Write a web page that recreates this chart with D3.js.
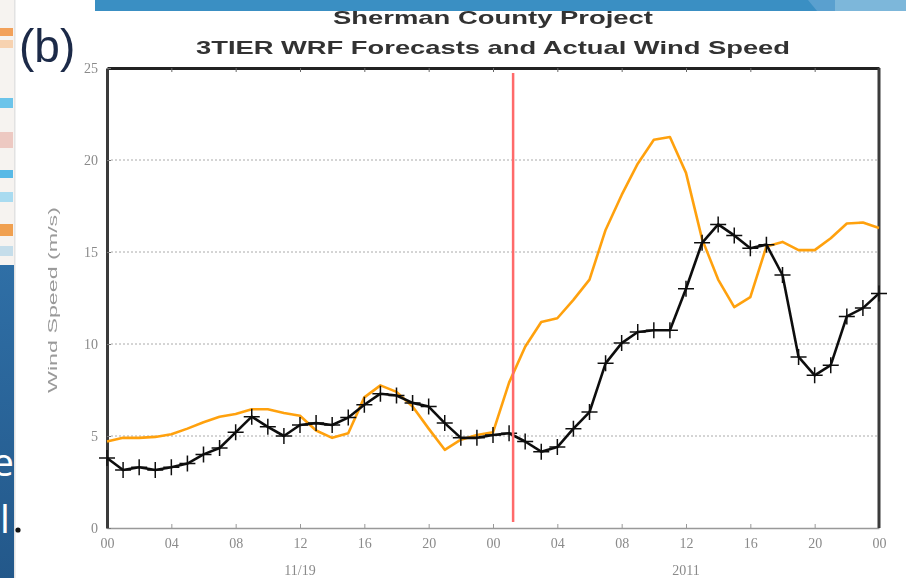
<!DOCTYPE html>
<html>
<head>
<meta charset="utf-8">
<script src="https://cdn.jsdelivr.net/npm/d3@7"></script>
<style>
  body { margin: 0; background: #fff; }
  svg { display: block; }
</style>
</head>
<body>
<div id="chart"></div>
<script>
const width = 906;
const height = 578;

// hourly values, 00:00 on the first day to 00:00 two days later
const actual = [3.8, 3.15, 3.3, 3.15, 3.3, 3.5, 4.0, 4.35, 5.2, 6.05, 5.5, 5.0, 5.6,
    5.7, 5.6, 6.0, 6.7, 7.3, 7.2, 6.8, 6.6, 5.7, 4.9, 4.9, 5.05,
    5.15, 4.7, 4.15, 4.4, 5.4, 6.3, 8.95, 10.05, 10.65, 10.75, 10.75, 13.0,
    15.5, 16.5, 15.9, 15.2, 15.4, 13.75, 9.3, 8.3, 8.85, 11.5, 11.95, 12.75];
const forecast = [4.7, 4.9, 4.9, 4.95, 5.1, 5.4, 5.75, 6.05, 6.2, 6.45, 6.45, 6.25, 6.1,
    5.3, 4.9, 5.15, 7.1, 7.75, 7.4, 6.6, 5.4, 4.25, 4.8, 5.05, 5.2,
    7.9, 9.85, 11.2, 11.4, 12.4, 13.5, 16.2, 18.1, 19.8, 21.1, 21.25, 19.3,
    15.7, 13.5, 12.0, 12.55, 15.3, 15.55, 15.1, 15.1, 15.75, 16.55, 16.6, 16.3];
const yTicks = [0, 5, 10, 15, 20, 25];
const dayLabels = ['11/19', '2011'];
const forecastIssued = 25.25; // hours after start

const start = new Date(2011, 10, 19, 0);
const end = new Date(2011, 10, 21, 0);
const hour = i => d3.timeHour.offset(start, i);
const hourF = h => new Date(start.getTime() + h * 3600e3);

const svg = d3.select('#chart').append('svg')
    .attr('width', width)
    .attr('height', height);

const defs = svg.append('defs');
defs.append('filter').attr('id', 'soft')
    .attr('x', '-5%').attr('y', '-5%').attr('width', '110%').attr('height', '110%')
    .append('feGaussianBlur').attr('stdDeviation', 0.55);

// ---- the chart ----
const margin = { left: 107, right: 879, top: 68, bottom: 528 };

const x = d3.scaleTime().domain([start, end]).range([margin.left, margin.right]);
const y = d3.scaleLinear().domain([0, 25]).range([margin.bottom, margin.top]);

const chart = svg.append('g').attr('filter', 'url(#soft)');

const titles = chart.append('g')
    .style('font-family', '"Liberation Sans", Arial, sans-serif')
    .style('font-weight', 'bold')
    .attr('fill', '#333')
    .attr('text-anchor', 'middle');
titles.append('text').attr('x', 493).attr('y', 24).style('font-size', '19px')
    .attr('textLength', 320).attr('lengthAdjust', 'spacingAndGlyphs').text('Sherman County Project');
titles.append('text').attr('x', 493).attr('y', 54).style('font-size', '19px')
    .attr('textLength', 594).attr('lengthAdjust', 'spacingAndGlyphs').text('3TIER WRF Forecasts and Actual Wind Speed');

// dotted grid
chart.append('g')
    .selectAll('line')
    .data(yTicks.filter(d => d > 0 && d < 25))
    .enter().append('line')
    .attr('x1', margin.left).attr('x2', margin.right)
    .attr('y1', d => y(d)).attr('y2', d => y(d))
    .attr('stroke', '#aaa')
    .attr('stroke-width', 1)
    .attr('stroke-dasharray', '2,2');

const tickFont = g => g.selectAll('text')
    .style('font-family', '"Liberation Serif", serif')
    .style('font-size', '14px')
    .attr('fill', '#8a8a8a');

const xAxis = d3.axisBottom(x)
    .ticks(d3.timeHour.every(4))
    .tickFormat(d3.timeFormat('%H'))
    .tickSizeInner(-4)
    .tickSizeOuter(0)
    .tickPadding(10);

chart.append('g')
    .attr('transform', `translate(0,${margin.bottom})`)
    .call(xAxis)
    .call(g => g.select('.domain').attr('stroke', '#999').attr('stroke-width', 1.5))
    .call(g => g.selectAll('.tick line').attr('stroke', '#999'))
    .call(tickFont);

chart.append('g')
    .attr('transform', `translate(0,${margin.top})`)
    .call(d3.axisTop(x).ticks(d3.timeHour.every(4)).tickSizeInner(-4).tickSizeOuter(0).tickFormat(''))
    .call(g => g.select('.domain').attr('stroke', '#222').attr('stroke-width', 3))
    .call(g => g.selectAll('.tick line').attr('stroke', '#666'));

chart.append('g')
    .attr('transform', `translate(${margin.left},0)`)
    .call(d3.axisLeft(y).tickValues(yTicks).tickSizeInner(-4).tickSizeOuter(0).tickPadding(9))
    .call(g => g.select('.domain').attr('stroke', '#3a3a3a').attr('stroke-width', 3))
    .call(g => g.selectAll('.tick line').attr('stroke', '#777'))
    .call(tickFont);

chart.append('line')
    .attr('x1', margin.right).attr('x2', margin.right)
    .attr('y1', margin.top).attr('y2', margin.bottom)
    .attr('stroke', '#3a3a3a').attr('stroke-width', 3);

// day labels at noon of each day
chart.append('g')
    .selectAll('text')
    .data(dayLabels)
    .enter().append('text')
    .attr('x', (d, i) => x(hour(12 + 24 * i)))
    .attr('y', 575)
    .attr('text-anchor', 'middle')
    .style('font-family', '"Liberation Serif", serif')
    .style('font-size', '14px')
    .attr('fill', '#8a8a8a')
    .text(d => d);

chart.append('text')
    .attr('transform', `translate(57,${(margin.top + margin.bottom) / 2 + 2}) rotate(-90)`)
    .attr('text-anchor', 'middle')
    .attr('textLength', 186)
    .attr('lengthAdjust', 'spacingAndGlyphs')
    .style('font-family', '"Liberation Sans", sans-serif')
    .style('font-size', '13px')
    .attr('fill', '#9a9a9a')
    .text('Wind Speed (m/s)');

// series
const line = d3.line()
    .x((d, i) => x(hour(i)))
    .y(d => y(d));

chart.append('path')
    .datum(forecast)
    .attr('d', line)
    .attr('fill', 'none')
    .attr('stroke', '#ffa10f')
    .attr('stroke-width', 2.6)
    .attr('stroke-linejoin', 'round');

chart.append('path')
    .datum(actual)
    .attr('d', line)
    .attr('fill', 'none')
    .attr('stroke', '#111')
    .attr('stroke-width', 2.6)
    .attr('stroke-linejoin', 'round');

chart.append('g')
    .selectAll('path')
    .data(actual)
    .enter().append('path')
    .attr('transform', (d, i) => `translate(${x(hour(i))},${y(d)})`)
    .attr('d', 'M-8,0H8M0,-8V8')
    .attr('stroke', '#111')
    .attr('stroke-width', 1.5);

// forecast issue time
chart.append('line')
    .attr('x1', x(hourF(forecastIssued))).attr('x2', x(hourF(forecastIssued)))
    .attr('y1', 73).attr('y2', 522)
    .attr('stroke', '#ff6a6a')
    .attr('stroke-width', 2.5);

// ---- slide pieces around the figure ----
const slide = svg.append('g');
slide.append('rect').attr('x', 0).attr('y', 0).attr('width', 14).attr('height', 265).attr('fill', '#f6f3f0');
[['#f2a15a', 28, 8], ['#f7d2b0', 40, 8], ['#6cc4ea', 98, 10], ['#edc9c2', 132, 16],
 ['#58b9e6', 170, 8], ['#a9dbf0', 192, 10], ['#f0a050', 224, 12], ['#c5ddea', 246, 10]]
    .forEach(([c, y0, h]) => slide.append('rect')
        .attr('x', 0).attr('y', y0).attr('width', 13).attr('height', h).attr('fill', c));

const grad = defs.append('linearGradient')
    .attr('id', 'side').attr('x1', 0).attr('y1', 0).attr('x2', 0).attr('y2', 1);
grad.append('stop').attr('offset', '0%').attr('stop-color', '#2f6fa6');
grad.append('stop').attr('offset', '100%').attr('stop-color', '#23588a');
slide.append('rect').attr('x', 0).attr('y', 265).attr('width', 14).attr('height', 313).attr('fill', 'url(#side)');
defs.append('clipPath').attr('id', 'strip')
    .append('rect').attr('x', 0).attr('y', 0).attr('width', 14).attr('height', height);
const stripText = slide.append('g').attr('clip-path', 'url(#strip)')
    .style('font-family', '"Open Sans", sans-serif')
    .style('font-size', '39px')
    .attr('fill', '#fff');
stripText.append('text').attr('x', 14).attr('y', 476).attr('text-anchor', 'end').text('e');
stripText.append('text').attr('x', 0).attr('y', 533).text('l');
slide.append('rect').attr('x', 14).attr('y', 0).attr('width', 1.5).attr('height', height).attr('fill', '#e2e2e2');
slide.append('circle').attr('cx', 18).attr('cy', 530).attr('r', 2.6).attr('fill', '#111');

// blue banner across the top
slide.append('rect').attr('x', 95).attr('y', 0).attr('width', 811).attr('height', 11).attr('fill', '#3a8fc3');
slide.append('path').attr('d', 'M808,0 L906,0 L906,11 L817,11 Z').attr('fill', '#5aa0cf');
slide.append('rect').attr('x', 835).attr('y', 0).attr('width', 71).attr('height', 11).attr('fill', '#7db7da');

slide.append('text')
    .attr('x', 19).attr('y', 62)
    .style('font-family', '"Liberation Sans", Arial, sans-serif')
    .style('font-size', '46px')
    .attr('fill', '#1c2a48')
    .text('(b)');
</script>
</body>
</html>
